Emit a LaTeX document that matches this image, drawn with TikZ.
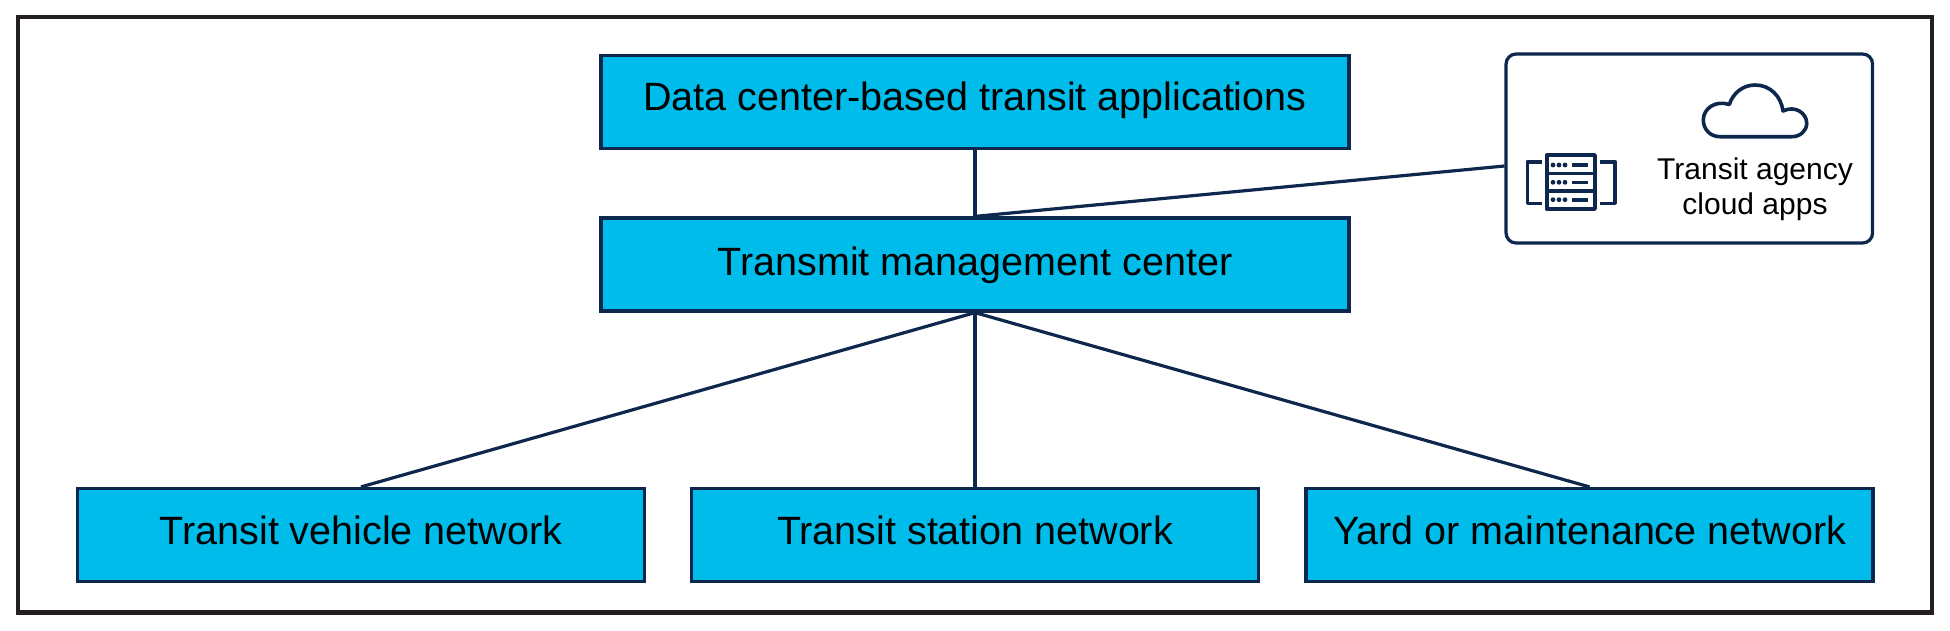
\documentclass[tikz,border=0pt]{standalone}
\usepackage{fontspec}
\setmainfont{Liberation Sans}
\definecolor{navy}{HTML}{0D274D}
\definecolor{cyanfill}{HTML}{00BCEB}
\definecolor{framecol}{HTML}{231F20}
\tikzset{
  bluebox/.style={draw=navy,fill=cyanfill,line width=3.2pt,rectangle,inner sep=0pt,
    minimum height=93pt,text=black,font=\fontsize{39.5}{44}\selectfont,
    text height=29pt,text depth=11pt},
  wire/.style={draw=navy,line width=3.2pt},
  icon/.style={draw=navy,line width=3.6pt,line join=round},
}
\begin{document}
\begin{tikzpicture}[x=1pt,y=-1pt]
\useasboundingbox (0,0) rectangle (1950,630);
\draw[framecol,line width=4.5pt] (18,17) rectangle (1932,612.7);
\node[bluebox,minimum width=748pt] (top) at (975,101.7) {Data center-based transit applications};
\node[bluebox,minimum width=748pt,text depth=8pt] (mid) at (975,264.5) {Transmit management center};
\node[bluebox,minimum width=567pt] (veh) at (361,535) {Transit vehicle network};
\node[bluebox,minimum width=567pt] (sta) at (975,535) {Transit station network};
\node[bluebox,minimum width=567pt] (yard) at (1589.5,535) {Yard or maintenance network};
\node[draw=navy,line width=3.2pt,rounded corners=10pt,fill=white,minimum width=366.5pt,minimum height=189pt,inner sep=0pt] (cloudbox) at (1689.3,148.5) {};
\node[align=center,text=black,font=\fontsize{30}{35}\selectfont,inner sep=0pt] (cloudlabel) at (1755,189) {Transit agency\\cloud apps};
\draw[wire] (top.south) -- (mid.north);
\draw[wire] ([yshift=-17.5pt]cloudbox.west) -- (mid.north);
\draw[wire] (mid.south) -- (veh.north);
\draw[wire] (mid.south) -- (sta.north);
\draw[wire] (mid.south) -- (yard.north);
% server icon
\draw[icon] (1546.7,155) rectangle (1595,209);
\draw[icon] (1546.7,173.3) -- (1595,173.3);
\draw[icon] (1546.7,191) -- (1595,191);
\foreach \yy in {165,182.3,199.7}{
  \foreach \xx in {1553,1559,1565}{\fill[navy] (\xx,\yy) circle (2.4pt);}
  \draw[icon] (1571.7,\yy) -- (1588.3,\yy);
}
\draw[icon] (1541.7,161.7) -- (1527.3,161.7) -- (1527.3,203.3) -- (1541.7,203.3);
\draw[icon] (1600,161.7) -- (1615,161.7) -- (1615,203.3) -- (1600,203.3);
% cloud icon
\draw[icon] (1720,136.7)
  .. controls (1710,136.7) and (1703.3,129) .. (1703.3,120)
  .. controls (1703.3,108) and (1716,100) .. (1729.3,104.5)
  .. controls (1733,93) and (1743,85) .. (1755,85)
  .. controls (1770,85) and (1781,96) .. (1783,111)
  .. controls (1795,105) and (1806.7,113) .. (1806.7,123.3)
  .. controls (1806.7,131) and (1800,136.7) .. (1791.7,136.7)
  -- cycle;
\end{tikzpicture}
\end{document}
